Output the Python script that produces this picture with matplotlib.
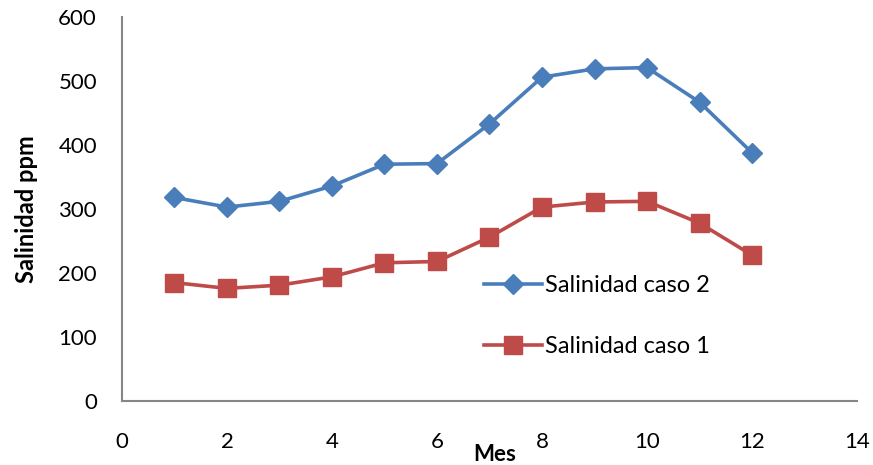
import matplotlib

matplotlib.use("Agg")
import matplotlib.pyplot as plt  # noqa: E402

plt.rcParams["font.family"] = ["Lato", "DejaVu Sans"]

# monthly salinity readings (ppm)
meses = [1, 2, 3, 4, 5, 6, 7, 8, 9, 10, 11, 12]
caso2 = [318, 303, 312, 336, 370, 371, 433, 506, 519, 521, 467, 388]
caso1 = [185, 176, 181, 194, 216, 218, 256, 303, 311, 312, 278, 228]
x_ticks = [0, 2, 4, 6, 8, 10, 12, 14]
y_ticks = [0, 100, 200, 300, 400, 500, 600]

_BLUE = "#4a7ebb"
_RED = "#be4b48"
_SPINE = "#868686"

fig = plt.figure(figsize=(8.73, 4.65), dpi=100, facecolor="white")
ax = fig.add_axes([0.1397, 0.1376, 0.842, 0.8258])

ax.plot(meses, caso2, color=_BLUE, linewidth=2.6, marker="D", markersize=10,
        label="Salinidad caso 2")
ax.plot(meses, caso1, color=_RED, linewidth=2.6, marker="s", markersize=13,
        label="Salinidad caso 1")

ax.set_xlim(0, 14)
ax.set_ylim(0, 600)
ax.set_xticks(x_ticks)
ax.set_yticks(y_ticks)
ax.tick_params(axis="both", length=0, labelsize=16, colors="black")
ax.tick_params(axis="x", pad=22)
ax.tick_params(axis="y", pad=18)

for side in ("top", "right"):
    ax.spines[side].set_visible(False)
for side in ("left", "bottom"):
    ax.spines[side].set_color(_SPINE)
    ax.spines[side].set_linewidth(1.5)

ax.set_ylabel("Salinidad ppm", fontsize=17, fontweight="bold")
ax.yaxis.set_label_coords(-0.114, 0.5)
ax.text(7.1, -0.14, "Mes", transform=ax.get_xaxis_transform(), fontsize=16,
        fontweight="bold", ha="center", va="center")

leg = ax.legend(loc="upper left", bbox_to_anchor=(0.4765, 0.359), frameon=False,
                fontsize=17, labelspacing=1.7, handlelength=2.45, handletextpad=0.15,
                borderpad=0)

fig.savefig("out.png", dpi=100, facecolor="white")
